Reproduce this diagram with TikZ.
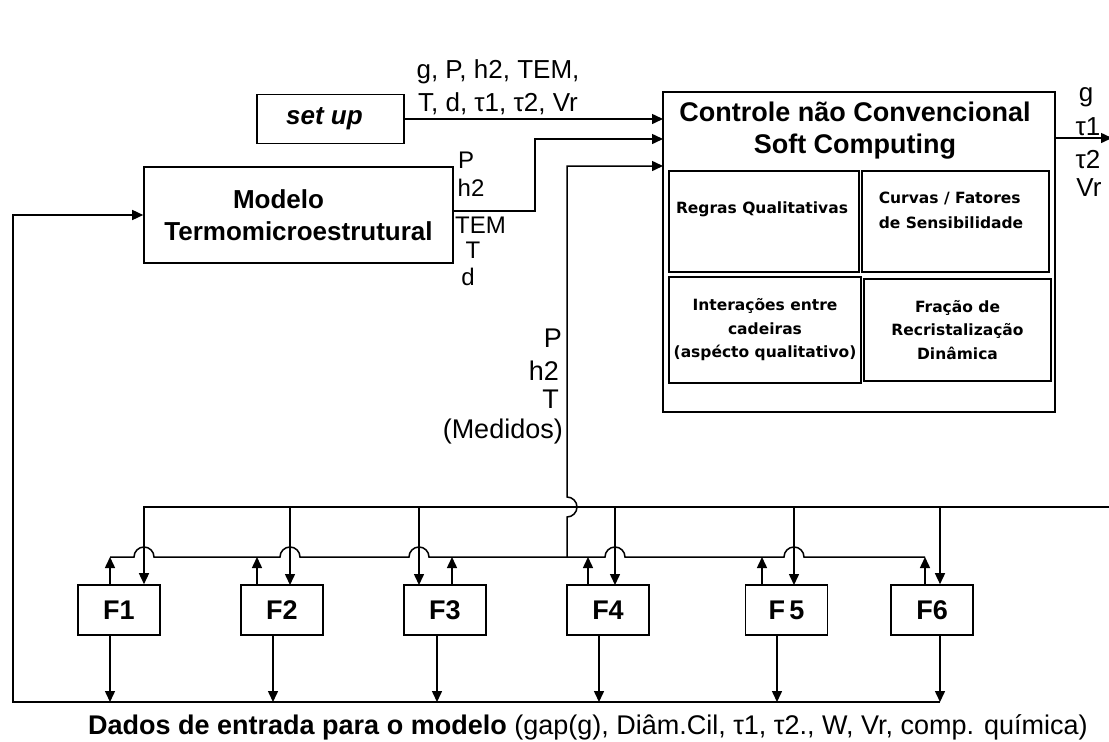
\documentclass[tikz,border=0pt]{standalone}
\usepackage{fontspec}
\setmainfont{Liberation Sans}
\newfontfamily\dvb{DejaVu Sans}
\usetikzlibrary{arrows.meta}
\tikzset{
 ln/.style={line width=1.5pt},
 arr/.style={ln,-{Triangle[length=11pt,width=10pt]}},
 box/.style={draw,line width=1.6pt,inner sep=0pt,align=center},
 fbox/.style={box,minimum width=82pt,minimum height=50pt,font=\fontsize{27}{30}\selectfont\bfseries},
 lab/.style={inner sep=0pt,font=\fontsize{26}{28}\selectfont},
 mlab/.style={inner sep=0pt,font=\fontsize{24}{26}\selectfont},
 inbox/.style={box,line width=1.3pt,font=\dvb\fontsize{15.5}{23.5}\selectfont\bfseries},
}
\begin{document}
\begin{tikzpicture}[x=1pt,y=-1pt]
\useasboundingbox (0,0) rectangle (1109,742);
\fill[white] (0,0) rectangle (1109,742);

% main boxes
\node[box,minimum width=147pt,minimum height=49pt,font=\fontsize{26}{30}\selectfont\bfseries\itshape] (setup) at (330.5,119) {set up\hspace*{12pt}};
\node[box,minimum width=309pt,minimum height=96pt,font=\fontsize{26}{32}\selectfont\bfseries] (modelo) at (298.5,215) {Modelo\hspace*{40pt}\\Termomicroestrutural};
\node[box,minimum width=392pt,minimum height=320pt] (ctrl) at (859,252) {};
\node[inner sep=0pt,align=center,font=\fontsize{27}{32}\selectfont\bfseries] (ctitle) at (855,131) {Controle não Convencional\\Soft Computing};
\node[inbox,minimum width=190pt,minimum height=101pt] (b1) at (764,221.5) {};
\node[inner sep=0pt,font=\dvb\fontsize{15.5}{23.5}\selectfont\bfseries] (t1) at (762,209) {Regras Qualitativas};
\node[inbox,minimum width=187pt,minimum height=101pt] (b2) at (955.5,221.5) {};
\node[inner sep=0pt,align=left,font=\dvb\fontsize{15.5}{24.5}\selectfont\bfseries] (t2) at (951,210.5) {Curvas / Fatores\\de Sensibilidade};
\node[inbox,minimum width=192pt,minimum height=106pt] (b3) at (765,330) {Interações entre\\cadeiras\hspace*{8pt}\\(aspécto qualitativo)};
\node[inbox,minimum width=187pt,minimum height=102pt] (b4) at (957.5,330) {Fração de\\Recristalização\\Dinâmica};

% F boxes
\node[fbox] (F1) at (119,610) {F1};
\node[fbox] (F2) at (282,610) {F2};
\node[fbox] (F3) at (445,610) {F3};
\node[fbox] (F4) at (608,610) {F4};
\node[fbox] (F5) at (786.5,610) {F\,5};
\node[fbox] (F6) at (932,610) {F6};

% labels
\node[lab,align=center,font=\fontsize{26}{33}\selectfont] (toplab) at (498,87) {g, P, h2, TEM,\\T, d, τ1, τ2, Vr};
\node[mlab] (mP) at (466,160) {P};
\node[mlab] (mh) at (471,188) {h2};
\node[mlab,anchor=west] (mTEM) at (455,225) {TEM};
\node[mlab] (mT) at (473,250) {T};
\node[mlab] (md) at (468,277) {d};
\node[lab] (og) at (1086,97) {g};
\node[lab] (ot1) at (1088,127) {τ1};
\node[lab] (ot2) at (1088,160) {τ2};
\node[lab] (oVr) at (1089,188) {Vr};
\node[lab,anchor=east,font=\fontsize{27}{28}\selectfont] (sP) at (562,338) {P};
\node[lab,anchor=east,font=\fontsize{27}{28}\selectfont] (sh) at (559,371) {h2};
\node[lab,anchor=east,font=\fontsize{27}{28}\selectfont] (sT) at (559,399) {T};
\node[lab,anchor=east,font=\fontsize{27}{28}\selectfont] (sM) at (563,432) {(Medidos)};
\node[lab,anchor=west,font=\fontsize{27}{30}\selectfont] (dados) at (88,727) {\textbf{Dados de entrada para o modelo} (gap(g), Diâm.Cil, τ1, τ2., W, Vr, comp. química)};

% coordinates
\coordinate (in1) at (663,119);
\coordinate (in2) at (663,139);
\coordinate (in3) at (663,166);
\coordinate (k2) at (535,139);
\coordinate (out) at (1112,138);
\coordinate (aR) at (1112,507);
\coordinate (a1) at (144,507);
\coordinate (mB) at (567,557);
\coordinate (cR) at (940,702);
\coordinate (cL) at (13,702);
\coordinate (d1) at (110,702);
\coordinate (d2) at (273,702);
\coordinate (d3) at (437,702);
\coordinate (d4) at (599,702);
\coordinate (d5) at (777,702);

% top connectors
\draw[arr] (setup.east) -- (in1);
\draw[arr] ([yshift=4pt]modelo.east) -| (k2) -- (in2);
\draw[arr] (ctrl.east |- out) -- (out);
\draw[arr] (mB) -- (567,517) arc[start angle=-90,end angle=90,radius=10pt] -- (567,166) -- (in3);

% bus A with F1 down arrow
\draw[arr] (aR) -- (a1) -- (a1 |- F1.north);
\draw[arr] (290,507) -- (290,585);
\draw[arr] (419,507) -- (419,585);
\draw[arr] (615,507) -- (615,585);
\draw[arr] (794,507) -- (794,585);
\draw[arr] (940,507) -- (F6.north -| cR);

% bus B with jumps
\draw[ln] (110,557) -- (134,557) arc[start angle=180,end angle=0,radius=10pt]
  -- (280,557) arc[start angle=180,end angle=0,radius=10pt]
  -- (409,557) arc[start angle=180,end angle=0,radius=10pt]
  -- (605,557) arc[start angle=180,end angle=0,radius=10pt]
  -- (784,557) arc[start angle=180,end angle=0,radius=10pt]
  -- (925,557);

% up arrows
\draw[arr] (110,585) -- (110,557);
\draw[arr] (257,585) -- (257,557);
\draw[arr] (452,585) -- (452,557);
\draw[arr] (588,585) -- (588,557);
\draw[arr] (762,585) -- (762,557);
\draw[arr] (925,585) -- (925,557);

% outputs to bottom bus
\draw[arr] (F1.south -| d1) -- (d1);
\draw[arr] (F2.south -| d2) -- (d2);
\draw[arr] (F3.south -| d3) -- (d3);
\draw[arr] (F4.south -| d4) -- (d4);
\draw[arr] (F5.south -| d5) -- (d5);
\draw[arr] (F6.south -| cR) -- (cR);

% loop back to model
\draw[arr] (cR) -- (cL) |- (modelo.west);
\end{tikzpicture}
\end{document}
